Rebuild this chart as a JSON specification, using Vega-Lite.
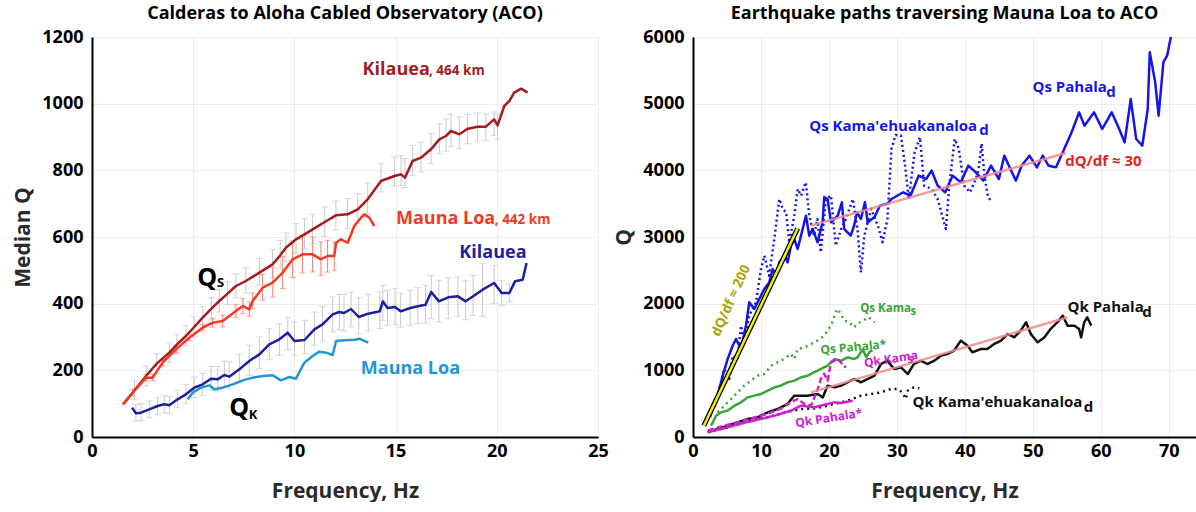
{
  "$schema": "https://vega.github.io/schema/vega-lite/v6.json",
  "background": "white",
  "padding": {"left": 12, "top": 4, "right": 0, "bottom": 0},
  "config": {
    "font": "Open Sans",
    "view": {"stroke": "#9a9a9a", "strokeWidth": 1},
    "axis": {
      "labelFont": "Open Sans", "labelFontSize": 18, "labelFontWeight": "bold", "labelColor": "#000",
      "titleFont": "Open Sans", "titleFontSize": 21, "titleFontWeight": "bold", "titleColor": "#2a2a2a",
      "domainColor": "#000", "domainWidth": 2, "gridColor": "#ededed", "gridWidth": 1,
      "ticks": false, "labelFlush": false, "format": "d"
    },
    "axisX": {"labelPadding": 5, "titlePadding": 20},
    "axisY": {"labelPadding": 9, "titlePadding": 8},
    "title": {"font": "Open Sans", "fontSize": 18, "fontWeight": "bold", "color": "#000", "offset": 5, "anchor": "middle"}
  },
  "resolve": {"scale": {"color": "independent", "strokeDash": "independent", "strokeWidth": "independent"}},
  "datasets": {
    "left": [
      {"s":"KQs","f":1.55,"q":98},
      {"s":"KQs","f":2.1,"q":140,"lo":112,"hi":168},
      {"s":"KQs","f":2.67,"q":183,"lo":153,"hi":213},
      {"s":"KQs","f":3.2,"q":220,"lo":190,"hi":250},
      {"s":"KQs","f":3.82,"q":253,"lo":223,"hi":283},
      {"s":"KQs","f":4.2,"q":278,"lo":248,"hi":308},
      {"s":"KQs","f":4.64,"q":303,"lo":273,"hi":335},
      {"s":"KQs","f":5.05,"q":330,"lo":300,"hi":362},
      {"s":"KQs","f":5.47,"q":358,"lo":328,"hi":390},
      {"s":"KQs","f":5.9,"q":385,"lo":352,"hi":418},
      {"s":"KQs","f":6.29,"q":408,"lo":375,"hi":442},
      {"s":"KQs","f":6.7,"q":430,"lo":397,"hi":466},
      {"s":"KQs","f":7.11,"q":453,"lo":418,"hi":490},
      {"s":"KQs","f":7.6,"q":468,"lo":432,"hi":508},
      {"s":"KQs","f":8.27,"q":493,"lo":455,"hi":535},
      {"s":"KQs","f":8.92,"q":518,"lo":478,"hi":562},
      {"s":"KQs","f":9.3,"q":545,"lo":505,"hi":590},
      {"s":"KQs","f":9.58,"q":568,"lo":528,"hi":612},
      {"s":"KQs","f":10.08,"q":593,"lo":552,"hi":640},
      {"s":"KQs","f":10.5,"q":608,"lo":566,"hi":655},
      {"s":"KQs","f":10.9,"q":623,"lo":580,"hi":668},
      {"s":"KQs","f":11.5,"q":645,"lo":602,"hi":690},
      {"s":"KQs","f":12.05,"q":665,"lo":622,"hi":708},
      {"s":"KQs","f":12.63,"q":668,"lo":625,"hi":715},
      {"s":"KQs","f":13.13,"q":683,"lo":640,"hi":730},
      {"s":"KQs","f":13.62,"q":713,"lo":668,"hi":762},
      {"s":"KQs","f":14.28,"q":768,"lo":735,"hi":820},
      {"s":"KQs","f":14.94,"q":783,"lo":752,"hi":840},
      {"s":"KQs","f":15.27,"q":788,"lo":755,"hi":845},
      {"s":"KQs","f":15.46,"q":778,"lo":748,"hi":835},
      {"s":"KQs","f":15.84,"q":828,"lo":785,"hi":875},
      {"s":"KQs","f":16.25,"q":838,"lo":795,"hi":885},
      {"s":"KQs","f":16.75,"q":863,"lo":820,"hi":910},
      {"s":"KQs","f":17.16,"q":893,"lo":850,"hi":940},
      {"s":"KQs","f":17.49,"q":903,"lo":858,"hi":955},
      {"s":"KQs","f":17.74,"q":918,"lo":872,"hi":968},
      {"s":"KQs","f":18.15,"q":908,"lo":865,"hi":960},
      {"s":"KQs","f":18.56,"q":925,"lo":880,"hi":968},
      {"s":"KQs","f":19.05,"q":931,"lo":888,"hi":972},
      {"s":"KQs","f":19.46,"q":931,"lo":890,"hi":970},
      {"s":"KQs","f":19.87,"q":953,"lo":905,"hi":975},
      {"s":"KQs","f":20.04,"q":935,"lo":893,"hi":968},
      {"s":"KQs","f":20.37,"q":993},
      {"s":"KQs","f":20.62,"q":1008},
      {"s":"KQs","f":20.86,"q":1033},
      {"s":"KQs","f":21.2,"q":1045},
      {"s":"KQs","f":21.52,"q":1033},
      {"s":"MLQs","f":1.52,"q":98},
      {"s":"MLQs","f":2.01,"q":133,"lo":123,"hi":143},
      {"s":"MLQs","f":2.67,"q":178,"lo":168,"hi":188},
      {"s":"MLQs","f":3.0,"q":178,"lo":168,"hi":188},
      {"s":"MLQs","f":3.49,"q":223,"lo":213,"hi":233},
      {"s":"MLQs","f":4.15,"q":263,"lo":253,"hi":273},
      {"s":"MLQs","f":4.81,"q":298,"lo":288,"hi":308},
      {"s":"MLQs","f":5.47,"q":328,"lo":318,"hi":338},
      {"s":"MLQs","f":5.96,"q":343,"lo":330,"hi":356},
      {"s":"MLQs","f":6.46,"q":348,"lo":330,"hi":366},
      {"s":"MLQs","f":7.11,"q":378,"lo":358,"hi":398},
      {"s":"MLQs","f":7.45,"q":393,"lo":370,"hi":415},
      {"s":"MLQs","f":7.77,"q":383,"lo":362,"hi":405},
      {"s":"MLQs","f":7.94,"q":408,"lo":385,"hi":432},
      {"s":"MLQs","f":8.43,"q":448,"lo":410,"hi":488},
      {"s":"MLQs","f":8.93,"q":463,"lo":420,"hi":508},
      {"s":"MLQs","f":9.42,"q":493,"lo":445,"hi":542},
      {"s":"MLQs","f":9.91,"q":533,"lo":478,"hi":588},
      {"s":"MLQs","f":10.4,"q":548,"lo":492,"hi":605},
      {"s":"MLQs","f":10.9,"q":548,"lo":495,"hi":600},
      {"s":"MLQs","f":11.31,"q":533,"lo":485,"hi":585},
      {"s":"MLQs","f":11.64,"q":543,"lo":495,"hi":590},
      {"s":"MLQs","f":11.97,"q":543,"lo":500,"hi":585},
      {"s":"MLQs","f":12.06,"q":583},
      {"s":"MLQs","f":12.3,"q":593},
      {"s":"MLQs","f":12.63,"q":583},
      {"s":"MLQs","f":12.96,"q":633},
      {"s":"MLQs","f":13.29,"q":658},
      {"s":"MLQs","f":13.45,"q":668},
      {"s":"MLQs","f":13.7,"q":658},
      {"s":"MLQs","f":13.95,"q":633},
      {"s":"KQk","f":1.98,"q":88},
      {"s":"KQk","f":2.17,"q":71,"lo":48,"hi":98},
      {"s":"KQk","f":2.42,"q":73,"lo":50,"hi":100},
      {"s":"KQk","f":2.83,"q":83,"lo":58,"hi":108},
      {"s":"KQk","f":3.24,"q":93,"lo":68,"hi":118},
      {"s":"KQk","f":3.57,"q":98,"lo":72,"hi":124},
      {"s":"KQk","f":3.82,"q":95,"lo":70,"hi":122},
      {"s":"KQk","f":4.23,"q":113,"lo":88,"hi":140},
      {"s":"KQk","f":4.64,"q":128,"lo":100,"hi":158},
      {"s":"KQk","f":5.05,"q":148,"lo":118,"hi":180},
      {"s":"KQk","f":5.47,"q":158,"lo":125,"hi":192},
      {"s":"KQk","f":5.88,"q":175,"lo":140,"hi":212},
      {"s":"KQk","f":6.21,"q":173,"lo":138,"hi":212},
      {"s":"KQk","f":6.54,"q":186,"lo":150,"hi":228},
      {"s":"KQk","f":6.78,"q":181,"lo":145,"hi":225},
      {"s":"KQk","f":7.28,"q":203,"lo":162,"hi":248},
      {"s":"KQk","f":7.77,"q":228,"lo":185,"hi":275},
      {"s":"KQk","f":8.27,"q":248,"lo":205,"hi":300},
      {"s":"KQk","f":8.76,"q":278,"lo":232,"hi":325},
      {"s":"KQk","f":9.26,"q":293,"lo":245,"hi":340},
      {"s":"KQk","f":9.67,"q":313,"lo":262,"hi":358},
      {"s":"KQk","f":10.0,"q":288,"lo":245,"hi":345},
      {"s":"KQk","f":10.5,"q":291,"lo":250,"hi":350},
      {"s":"KQk","f":10.99,"q":323,"lo":275,"hi":375},
      {"s":"KQk","f":11.39,"q":338,"lo":288,"hi":392},
      {"s":"KQk","f":11.89,"q":368,"lo":315,"hi":420},
      {"s":"KQk","f":12.22,"q":375,"lo":322,"hi":428},
      {"s":"KQk","f":12.45,"q":372,"lo":318,"hi":428},
      {"s":"KQk","f":12.8,"q":384,"lo":330,"hi":435},
      {"s":"KQk","f":13.18,"q":360,"lo":310,"hi":418},
      {"s":"KQk","f":13.65,"q":370,"lo":318,"hi":428},
      {"s":"KQk","f":14.22,"q":377,"lo":325,"hi":435},
      {"s":"KQk","f":14.37,"q":407,"lo":350,"hi":455},
      {"s":"KQk","f":14.6,"q":387,"lo":335,"hi":440},
      {"s":"KQk","f":14.97,"q":390,"lo":338,"hi":445},
      {"s":"KQk","f":15.25,"q":377,"lo":330,"hi":432},
      {"s":"KQk","f":15.72,"q":387,"lo":335,"hi":440},
      {"s":"KQk","f":16.1,"q":392,"lo":340,"hi":448},
      {"s":"KQk","f":16.48,"q":397,"lo":342,"hi":455},
      {"s":"KQk","f":16.76,"q":435,"lo":355,"hi":485},
      {"s":"KQk","f":17.14,"q":407,"lo":345,"hi":470},
      {"s":"KQk","f":17.6,"q":419,"lo":355,"hi":478},
      {"s":"KQk","f":18.08,"q":422,"lo":362,"hi":480},
      {"s":"KQk","f":18.46,"q":407,"lo":352,"hi":470},
      {"s":"KQk","f":18.83,"q":422,"lo":365,"hi":485},
      {"s":"KQk","f":19.3,"q":442,"lo":362,"hi":520},
      {"s":"KQk","f":19.87,"q":462,"lo":400,"hi":515},
      {"s":"KQk","f":20.24,"q":432,"lo":395,"hi":470},
      {"s":"KQk","f":20.62,"q":432,"lo":405,"hi":460},
      {"s":"KQk","f":20.9,"q":467},
      {"s":"KQk","f":21.28,"q":472},
      {"s":"KQk","f":21.47,"q":522},
      {"s":"MLQk","f":4.73,"q":113},
      {"s":"MLQk","f":4.97,"q":133},
      {"s":"MLQk","f":5.39,"q":148},
      {"s":"MLQk","f":5.8,"q":155},
      {"s":"MLQk","f":6.04,"q":143},
      {"s":"MLQk","f":6.46,"q":148},
      {"s":"MLQk","f":6.95,"q":158},
      {"s":"MLQk","f":7.45,"q":170},
      {"s":"MLQk","f":7.94,"q":178},
      {"s":"MLQk","f":8.43,"q":183},
      {"s":"MLQk","f":8.93,"q":185},
      {"s":"MLQk","f":9.34,"q":170},
      {"s":"MLQk","f":9.75,"q":180},
      {"s":"MLQk","f":10.08,"q":175},
      {"s":"MLQk","f":10.49,"q":223},
      {"s":"MLQk","f":10.9,"q":243},
      {"s":"MLQk","f":11.23,"q":256},
      {"s":"MLQk","f":11.56,"q":253},
      {"s":"MLQk","f":11.89,"q":246},
      {"s":"MLQk","f":12.06,"q":288},
      {"s":"MLQk","f":12.5,"q":290},
      {"s":"MLQk","f":13.0,"q":292},
      {"s":"MLQk","f":13.2,"q":295},
      {"s":"MLQk","f":13.65,"q":283}
    ],
    "leftBig": [
      {"t":"Kilauea","f":13.37,"q":1085,"s":"KQs"},
      {"t":"Mauna Loa","f":15.02,"q":638,"s":"MLQs"},
      {"t":"Kilauea","f":18.15,"q":538,"s":"KQk"},
      {"t":"Mauna Loa","f":13.28,"q":188,"s":"MLQk"}
    ],
    "leftSmall": [
      {"t":", 464 km","f":16.65,"q":1085,"s":"KQs"},
      {"t":", 442 km","f":19.9,"q":638,"s":"MLQs"}
    ],
    "leftQ": [
      {"t":"Q","f":5.2,"q":453},
      {"t":"Q","f":6.78,"q":63}
    ],
    "leftQsub": [
      {"t":"S","f":6.17,"q":450},
      {"t":"K","f":7.75,"q":53}
    ],
    "right": [
      {"k":"QsPd","f":2.5,"q":300},{"k":"QsPd","f":3.0,"q":450},{"k":"QsPd","f":3.63,"q":620},{"k":"QsPd","f":4.37,"q":920},{"k":"QsPd","f":5.1,"q":1170},{"k":"QsPd","f":5.84,"q":1370},{"k":"QsPd","f":6.32,"q":1470},{"k":"QsPd","f":7.06,"q":1320},{"k":"QsPd","f":7.79,"q":1670},{"k":"QsPd","f":8.28,"q":2020},{"k":"QsPd","f":9.01,"q":1920},{"k":"QsPd","f":9.75,"q":2070},{"k":"QsPd","f":10.49,"q":2220},{"k":"QsPd","f":11.22,"q":2320},{"k":"QsPd","f":11.72,"q":2520},{"k":"QsPd","f":12.2,"q":2420},{"k":"QsPd","f":12.7,"q":2620},{"k":"QsPd","f":13.43,"q":2720},{"k":"QsPd","f":13.92,"q":2620},{"k":"QsPd","f":14.41,"q":2870},{"k":"QsPd","f":14.9,"q":2970},{"k":"QsPd","f":15.4,"q":2820},{"k":"QsPd","f":16.13,"q":3120},{"k":"QsPd","f":16.62,"q":3320},{"k":"QsPd","f":17.1,"q":3020},{"k":"QsPd","f":17.6,"q":3120},{"k":"QsPd","f":18.33,"q":2920},{"k":"QsPd","f":19.07,"q":3220},{"k":"QsPd","f":19.3,"q":3600},{"k":"QsPd","f":19.8,"q":3570},{"k":"QsPd","f":20.3,"q":3220},{"k":"QsPd","f":21.3,"q":3320},{"k":"QsPd","f":21.9,"q":3520},{"k":"QsPd","f":22.25,"q":3120},{"k":"QsPd","f":23.2,"q":3020},{"k":"QsPd","f":23.7,"q":3170},{"k":"QsPd","f":24.15,"q":3370},{"k":"QsPd","f":24.7,"q":3270},{"k":"QsPd","f":25.3,"q":3520},{"k":"QsPd","f":25.7,"q":3220},{"k":"QsPd","f":26.7,"q":3300},{"k":"QsPd","f":27.5,"q":3470},{"k":"QsPd","f":28.6,"q":3500},{"k":"QsPd","f":29.2,"q":3570},{"k":"QsPd","f":30.9,"q":3670},{"k":"QsPd","f":32.0,"q":3620},{"k":"QsPd","f":33.2,"q":3920},{"k":"QsPd","f":34.3,"q":3870},{"k":"QsPd","f":35.1,"q":3995},{"k":"QsPd","f":36.0,"q":3770},{"k":"QsPd","f":37.1,"q":3670},{"k":"QsPd","f":38.2,"q":3920},{"k":"QsPd","f":39.4,"q":3820},{"k":"QsPd","f":40.5,"q":4070},{"k":"QsPd","f":41.6,"q":3970},{"k":"QsPd","f":42.7,"q":3845},{"k":"QsPd","f":43.85,"q":4070},{"k":"QsPd","f":45.0,"q":3870},{"k":"QsPd","f":45.8,"q":4220},{"k":"QsPd","f":46.7,"q":4020},{"k":"QsPd","f":47.5,"q":3845},{"k":"QsPd","f":48.35,"q":4070},{"k":"QsPd","f":49.5,"q":4220},{"k":"QsPd","f":50.6,"q":4045},{"k":"QsPd","f":51.45,"q":4220},{"k":"QsPd","f":52.3,"q":4070},{"k":"QsPd","f":53.4,"q":4045},{"k":"QsPd","f":54.5,"q":4295},{"k":"QsPd","f":55.7,"q":4570},{"k":"QsPd","f":56.8,"q":4870},{"k":"QsPd","f":57.6,"q":4670},{"k":"QsPd","f":59.0,"q":4870},{"k":"QsPd","f":60.2,"q":4620},{"k":"QsPd","f":61.6,"q":4870},{"k":"QsPd","f":62.7,"q":4620},{"k":"QsPd","f":63.5,"q":4420},{"k":"QsPd","f":64.4,"q":5070},{"k":"QsPd","f":65.2,"q":4470},{"k":"QsPd","f":66.1,"q":4370},{"k":"QsPd","f":66.9,"q":4920},{"k":"QsPd","f":67.2,"q":5770},{"k":"QsPd","f":68.0,"q":5320},{"k":"QsPd","f":68.5,"q":4820},{"k":"QsPd","f":69.2,"q":5620},{"k":"QsPd","f":69.75,"q":5720},{"k":"QsPd","f":70.3,"q":6000},
      {"k":"QsKd","f":3.2,"q":450},{"k":"QsKd","f":4.6,"q":1020},{"k":"QsKd","f":5.34,"q":870},{"k":"QsKd","f":5.84,"q":1220},{"k":"QsKd","f":6.57,"q":1170},{"k":"QsKd","f":7.06,"q":1670},{"k":"QsKd","f":7.55,"q":1420},{"k":"QsKd","f":8.28,"q":1820},{"k":"QsKd","f":9.26,"q":2020},{"k":"QsKd","f":10.0,"q":2520},{"k":"QsKd","f":10.5,"q":2720},{"k":"QsKd","f":11.2,"q":2420},{"k":"QsKd","f":11.96,"q":2970},{"k":"QsKd","f":12.7,"q":3570},{"k":"QsKd","f":13.2,"q":3420},{"k":"QsKd","f":13.7,"q":3370},{"k":"QsKd","f":14.16,"q":2920},{"k":"QsKd","f":14.9,"q":3320},{"k":"QsKd","f":15.4,"q":3720},{"k":"QsKd","f":15.9,"q":3620},{"k":"QsKd","f":16.6,"q":3820},{"k":"QsKd","f":17.1,"q":3320},{"k":"QsKd","f":17.8,"q":3020},{"k":"QsKd","f":18.3,"q":3270},{"k":"QsKd","f":18.8,"q":2770},{"k":"QsKd","f":19.55,"q":3570},{"k":"QsKd","f":20.3,"q":3620},{"k":"QsKd","f":21.0,"q":2870},{"k":"QsKd","f":21.8,"q":3120},{"k":"QsKd","f":22.5,"q":3270},{"k":"QsKd","f":23.5,"q":3570},{"k":"QsKd","f":24.2,"q":3120},{"k":"QsKd","f":24.7,"q":2470},{"k":"QsKd","f":25.2,"q":3020},{"k":"QsKd","f":26.2,"q":3420},{"k":"QsKd","f":27.2,"q":3170},{"k":"QsKd","f":27.9,"q":2920},{"k":"QsKd","f":28.6,"q":3270},{"k":"QsKd","f":29.2,"q":4320},{"k":"QsKd","f":29.8,"q":4530},{"k":"QsKd","f":30.6,"q":4520},{"k":"QsKd","f":31.2,"q":4070},{"k":"QsKd","f":31.75,"q":3570},{"k":"QsKd","f":32.6,"q":4270},{"k":"QsKd","f":33.4,"q":4495},{"k":"QsKd","f":34.0,"q":3770},{"k":"QsKd","f":35.1,"q":3720},{"k":"QsKd","f":36.0,"q":3570},{"k":"QsKd","f":36.8,"q":3270},{"k":"QsKd","f":37.2,"q":3120},{"k":"QsKd","f":37.7,"q":3770},{"k":"QsKd","f":38.5,"q":4470},{"k":"QsKd","f":39.1,"q":4320},{"k":"QsKd","f":39.9,"q":3770},{"k":"QsKd","f":40.75,"q":3670},{"k":"QsKd","f":41.6,"q":3870},{"k":"QsKd","f":42.0,"q":4000},{"k":"QsKd","f":42.45,"q":4400},{"k":"QsKd","f":42.9,"q":3900},{"k":"QsKd","f":43.4,"q":3600},{"k":"QsKd","f":43.8,"q":3550},
      {"k":"QsKs","f":3.63,"q":370},{"k":"QsKs","f":4.6,"q":470},{"k":"QsKs","f":5.6,"q":570},{"k":"QsKs","f":6.57,"q":670},{"k":"QsKs","f":7.55,"q":770},{"k":"QsKs","f":8.53,"q":845},{"k":"QsKs","f":9.5,"q":920},{"k":"QsKs","f":10.5,"q":945},{"k":"QsKs","f":11.5,"q":1070},{"k":"QsKs","f":12.45,"q":1120},{"k":"QsKs","f":13.4,"q":1170},{"k":"QsKs","f":14.4,"q":1245},{"k":"QsKs","f":14.9,"q":1170},{"k":"QsKs","f":15.4,"q":1320},{"k":"QsKs","f":16.4,"q":1345},{"k":"QsKs","f":17.35,"q":1395},{"k":"QsKs","f":18.3,"q":1445},{"k":"QsKs","f":19.3,"q":1520},{"k":"QsKs","f":20.3,"q":1670},{"k":"QsKs","f":21.2,"q":1920},{"k":"QsKs","f":21.8,"q":1845},{"k":"QsKs","f":22.25,"q":1745},{"k":"QsKs","f":23.0,"q":1720},{"k":"QsKs","f":23.7,"q":1645},{"k":"QsKs","f":24.2,"q":1695},{"k":"QsKs","f":24.95,"q":1745},{"k":"QsKs","f":25.9,"q":1795},{"k":"QsKs","f":26.7,"q":1720},
      {"k":"QsPs","f":2.65,"q":170},{"k":"QsPs","f":3.4,"q":320},{"k":"QsPs","f":4.1,"q":370},{"k":"QsPs","f":5.1,"q":395},{"k":"QsPs","f":6.1,"q":470},{"k":"QsPs","f":7.06,"q":520},{"k":"QsPs","f":8.04,"q":595},{"k":"QsPs","f":9.0,"q":620},{"k":"QsPs","f":10.0,"q":645},{"k":"QsPs","f":11.0,"q":695},{"k":"QsPs","f":12.0,"q":745},{"k":"QsPs","f":12.9,"q":770},{"k":"QsPs","f":13.9,"q":820},{"k":"QsPs","f":14.9,"q":845},{"k":"QsPs","f":15.9,"q":895},{"k":"QsPs","f":16.9,"q":920},{"k":"QsPs","f":17.8,"q":970},{"k":"QsPs","f":18.8,"q":1020},{"k":"QsPs","f":19.8,"q":1070},{"k":"QsPs","f":20.8,"q":1170},{"k":"QsPs","f":21.8,"q":1145},{"k":"QsPs","f":22.75,"q":1195},{"k":"QsPs","f":23.7,"q":1170},{"k":"QsPs","f":24.2,"q":1195},{"k":"QsPs","f":24.95,"q":1310},{"k":"QsPs","f":25.5,"q":1200},{"k":"QsPs","f":26.0,"q":1280},{"k":"QsPs","f":26.4,"q":1300},
      {"k":"QkPd","f":2.16,"q":70},{"k":"QkPd","f":3.63,"q":120},{"k":"QkPd","f":5.1,"q":170},{"k":"QkPd","f":6.57,"q":220},{"k":"QkPd","f":8.04,"q":270},{"k":"QkPd","f":9.5,"q":295},{"k":"QkPd","f":11.0,"q":370},{"k":"QkPd","f":12.45,"q":420},{"k":"QkPd","f":13.9,"q":495},{"k":"QkPd","f":14.9,"q":620},{"k":"QkPd","f":15.9,"q":620},{"k":"QkPd","f":16.9,"q":620},{"k":"QkPd","f":18.3,"q":645},{"k":"QkPd","f":19.1,"q":595},{"k":"QkPd","f":19.8,"q":770},{"k":"QkPd","f":20.8,"q":745},{"k":"QkPd","f":21.8,"q":770},{"k":"QkPd","f":22.75,"q":820},{"k":"QkPd","f":23.7,"q":870},{"k":"QkPd","f":24.7,"q":820},{"k":"QkPd","f":25.7,"q":870},{"k":"QkPd","f":26.7,"q":920},{"k":"QkPd","f":27.65,"q":1095},{"k":"QkPd","f":28.6,"q":1145},{"k":"QkPd","f":29.6,"q":1020},{"k":"QkPd","f":30.6,"q":1045},{"k":"QkPd","f":31.6,"q":945},{"k":"QkPd","f":32.5,"q":1095},{"k":"QkPd","f":33.5,"q":1145},{"k":"QkPd","f":34.5,"q":1095},{"k":"QkPd","f":35.5,"q":1145},{"k":"QkPd","f":36.5,"q":1220},{"k":"QkPd","f":37.45,"q":1245},{"k":"QkPd","f":38.4,"q":1295},{"k":"QkPd","f":39.4,"q":1445},{"k":"QkPd","f":40.4,"q":1370},{"k":"QkPd","f":41.1,"q":1270},{"k":"QkPd","f":42.35,"q":1320},{"k":"QkPd","f":43.3,"q":1320},{"k":"QkPd","f":44.3,"q":1395},{"k":"QkPd","f":45.3,"q":1445},{"k":"QkPd","f":46.3,"q":1545},{"k":"QkPd","f":47.25,"q":1495},{"k":"QkPd","f":48.2,"q":1595},{"k":"QkPd","f":49.0,"q":1720},{"k":"QkPd","f":49.7,"q":1545},{"k":"QkPd","f":50.7,"q":1420},{"k":"QkPd","f":51.7,"q":1495},{"k":"QkPd","f":52.6,"q":1620},{"k":"QkPd","f":53.6,"q":1720},{"k":"QkPd","f":54.4,"q":1820},{"k":"QkPd","f":55.1,"q":1670},{"k":"QkPd","f":56.1,"q":1670},{"k":"QkPd","f":56.8,"q":1620},{"k":"QkPd","f":57.1,"q":1495},{"k":"QkPd","f":57.55,"q":1720},{"k":"QkPd","f":58.0,"q":1795},{"k":"QkPd","f":58.6,"q":1670},
      {"k":"QkKd","f":2.2,"q":80},{"k":"QkKd","f":5.0,"q":140},{"k":"QkKd","f":8.0,"q":230},{"k":"QkKd","f":11.0,"q":300},{"k":"QkKd","f":14.0,"q":380},{"k":"QkKd","f":16.0,"q":420},{"k":"QkKd","f":18.0,"q":430},{"k":"QkKd","f":18.8,"q":445},{"k":"QkKd","f":20.8,"q":495},{"k":"QkKd","f":22.75,"q":545},{"k":"QkKd","f":24.7,"q":620},{"k":"QkKd","f":26.2,"q":645},{"k":"QkKd","f":27.65,"q":670},{"k":"QkKd","f":29.1,"q":720},{"k":"QkKd","f":30.1,"q":720},{"k":"QkKd","f":30.8,"q":670},{"k":"QkKd","f":31.3,"q":570},{"k":"QkKd","f":31.6,"q":695},{"k":"QkKd","f":32.5,"q":745},{"k":"QkKd","f":33.3,"q":730},
      {"k":"QkKs","f":2.2,"q":100},{"k":"QkKs","f":5.0,"q":180},{"k":"QkKs","f":8.0,"q":260},{"k":"QkKs","f":11.0,"q":350},{"k":"QkKs","f":13.0,"q":430},{"k":"QkKs","f":14.4,"q":520},{"k":"QkKs","f":15.4,"q":570},{"k":"QkKs","f":16.4,"q":495},{"k":"QkKs","f":17.35,"q":470},{"k":"QkKs","f":18.3,"q":700},{"k":"QkKs","f":18.8,"q":870},{"k":"QkKs","f":19.3,"q":950},{"k":"QkKs","f":19.8,"q":845},{"k":"QkKs","f":20.3,"q":1120},{"k":"QkKs","f":21.3,"q":1170},{"k":"QkKs","f":22.0,"q":1090},{"k":"QkKs","f":22.5,"q":1040},
      {"k":"QkPs","f":2.16,"q":70},{"k":"QkPs","f":4.5,"q":130},{"k":"QkPs","f":7.06,"q":200},{"k":"QkPs","f":9.5,"q":260},{"k":"QkPs","f":12.0,"q":320},{"k":"QkPs","f":14.4,"q":395},{"k":"QkPs","f":15.9,"q":470},{"k":"QkPs","f":17.8,"q":445},{"k":"QkPs","f":18.8,"q":470},{"k":"QkPs","f":19.8,"q":495},{"k":"QkPs","f":20.8,"q":520},{"k":"QkPs","f":21.8,"q":510},{"k":"QkPs","f":22.75,"q":530},{"k":"QkPs","f":23.5,"q":545}
    ],
    "ref200": [{"f":1.6,"q":170},{"f":15.4,"q":3130}],
    "ref30a": [{"f":17.35,"q":3170},{"f":54.85,"q":4260}],
    "ref30b": [{"f":17.35,"q":670},{"f":55.1,"q":1795}],
    "rightBig": [
      {"t":"Qs Pahala","f":49.95,"q":5170,"k":"QsPd"},
      {"t":"Qs Kama'ehuakanaloa","f":17.1,"q":4595,"k":"QsKd"},
      {"t":"Qk Pahala","f":55.1,"q":1870,"k":"QkPd"},
      {"t":"Qk Kama'ehuakanaloa","f":32.3,"q":445,"k":"QkKd"}
    ],
    "rightBigSub": [
      {"t":"d","f":60.8,"q":5100,"k":"QsPd"},
      {"t":"d","f":42.1,"q":4525,"k":"QsKd"},
      {"t":"d","f":66.1,"q":1800,"k":"QkPd"},
      {"t":"d","f":57.5,"q":375,"k":"QkKd"}
    ],
    "rightGreen": [
      {"t":"Qs Kama","f":24.6,"q":1870,"k":"QsKs"}
    ],
    "rightGreenSub": [
      {"t":"s","f":32.0,"q":1825,"k":"QsKs"}
    ],
    "rightGreenTilt": [
      {"t":"Qs Pahala*","f":18.8,"q":1245,"k":"QsPs"}
    ],
    "rightMag": [
      {"t":"Qk Kama","f":25.25,"q":1045,"k":"QkKs"},
      {"t":"Qk Pahala*","f":15.15,"q":145,"k":"QkPs"}
    ],
    "rightMagSub": [
      {"t":"s","f":31.6,"q":1105,"k":"QkKs"}
    ],
    "slope30": [{"t":"dQ/df ≈ 30","f":54.75,"q":4060}],
    "slope200": [{"t":"dQ/df ≈ 200","f":5.6,"q":2045}]
  },
  "hconcat": [
    {
      "width": 506, "height": 400,
      "title": "Calderas to Aloha Cabled Observatory (ACO)",
      "layer": [
        {"data": {"name": "left"}, "transform": [{"filter": "isValid(datum.lo) && (datum.s === 'KQs' || datum.s === 'KQk')"}],
         "mark": {"type": "rule", "color": "#c9c9c9", "strokeWidth": 1},
         "encoding": {
           "x": {"field": "f", "type": "quantitative", "scale": {"domain": [0, 25], "nice": false}, "axis": {"values": [0,5,10,15,20,25], "title": "Frequency, Hz"}},
           "y": {"field": "lo", "type": "quantitative", "scale": {"domain": [0, 1200], "nice": false}, "axis": {"values": [0,200,400,600,800,1000,1200], "title": "Median Q"}},
           "y2": {"field": "hi"}
         }},
        {"data": {"name": "left"}, "transform": [{"filter": "isValid(datum.lo) && (datum.s === 'KQs' || datum.s === 'KQk')"}],
         "mark": {"type": "tick", "orient": "horizontal", "color": "#c9c9c9", "size": 7, "thickness": 1},
         "encoding": {"x": {"field": "f", "type": "quantitative"}, "y": {"field": "lo", "type": "quantitative"}}},
        {"data": {"name": "left"}, "transform": [{"filter": "isValid(datum.lo) && (datum.s === 'KQs' || datum.s === 'KQk')"}],
         "mark": {"type": "tick", "orient": "horizontal", "color": "#c9c9c9", "size": 7, "thickness": 1},
         "encoding": {"x": {"field": "f", "type": "quantitative"}, "y": {"field": "hi", "type": "quantitative"}}},
        {"data": {"name": "left"}, "transform": [{"filter": "isValid(datum.lo) && datum.s === 'MLQs'"}],
         "mark": {"type": "rule", "color": "#f3806f", "strokeWidth": 1},
         "encoding": {"x": {"field": "f", "type": "quantitative"}, "y": {"field": "lo", "type": "quantitative"}, "y2": {"field": "hi"}}},
        {"data": {"name": "left"}, "transform": [{"filter": "isValid(datum.lo) && datum.s === 'MLQs'"}],
         "mark": {"type": "tick", "orient": "horizontal", "color": "#f3806f", "size": 6, "thickness": 1},
         "encoding": {"x": {"field": "f", "type": "quantitative"}, "y": {"field": "lo", "type": "quantitative"}}},
        {"data": {"name": "left"}, "transform": [{"filter": "isValid(datum.lo) && datum.s === 'MLQs'"}],
         "mark": {"type": "tick", "orient": "horizontal", "color": "#f3806f", "size": 6, "thickness": 1},
         "encoding": {"x": {"field": "f", "type": "quantitative"}, "y": {"field": "hi", "type": "quantitative"}}},
        {"data": {"name": "left"},
         "mark": {"type": "line", "strokeWidth": 2.5, "strokeJoin": "round"},
         "encoding": {
           "x": {"field": "f", "type": "quantitative"},
           "y": {"field": "q", "type": "quantitative"},
           "color": {"field": "s", "type": "nominal", "scale": {"domain": ["KQs","MLQs","KQk","MLQk"], "range": ["#a31d20","#f03a24","#1f1f9e","#2596d1"]}, "legend": null}
         }},
        {"data": {"name": "leftBig"},
         "mark": {"type": "text", "align": "left", "baseline": "alphabetic", "fontSize": 18, "fontWeight": "bold"},
         "encoding": {"x": {"field": "f", "type": "quantitative"}, "y": {"field": "q", "type": "quantitative"}, "text": {"field": "t"}, "color": {"field": "s", "type": "nominal", "legend": null}}},
        {"data": {"name": "leftSmall"},
         "mark": {"type": "text", "align": "left", "baseline": "alphabetic", "fontSize": 13.5, "fontWeight": "bold"},
         "encoding": {"x": {"field": "f", "type": "quantitative"}, "y": {"field": "q", "type": "quantitative"}, "text": {"field": "t"}, "color": {"field": "s", "type": "nominal", "legend": null}}},
        {"data": {"name": "leftQ"},
         "mark": {"type": "text", "align": "left", "baseline": "alphabetic", "fontSize": 25, "fontWeight": "bold", "color": "#000"},
         "encoding": {"x": {"field": "f", "type": "quantitative"}, "y": {"field": "q", "type": "quantitative"}, "text": {"field": "t"}}},
        {"data": {"name": "leftQsub"},
         "mark": {"type": "text", "align": "left", "baseline": "alphabetic", "fontSize": 13, "fontWeight": "bold", "color": "#000"},
         "encoding": {"x": {"field": "f", "type": "quantitative"}, "y": {"field": "q", "type": "quantitative"}, "text": {"field": "t"}}}
      ]
    },
    {
      "width": 503, "height": 400,
      "title": "Earthquake paths traversing Mauna Loa to ACO",
      "layer": [
        {"data": {"name": "right"},
         "mark": {"type": "line", "strokeJoin": "round"},
         "encoding": {
           "x": {"field": "f", "type": "quantitative", "scale": {"domain": [0, 74], "nice": false}, "axis": {"values": [0,10,20,30,40,50,60,70], "title": "Frequency, Hz"}},
           "y": {"field": "q", "type": "quantitative", "scale": {"domain": [0, 6000], "nice": false}, "axis": {"values": [0,1000,2000,3000,4000,5000,6000], "title": "Q"}},
           "color": {"field": "k", "type": "nominal", "scale": {"domain": ["QkPs","QkKs","QkKd","QkPd","QsPs","QsKs","QsKd","QsPd"], "range": ["#cc22cc","#cc22cc","#111111","#111111","#3aa535","#3aa535","#1515e6","#1515e6"]}, "legend": null},
           "strokeDash": {"field": "k", "type": "nominal", "scale": {"domain": ["QkPs","QkKs","QkKd","QkPd","QsPs","QsKs","QsKd","QsPd"], "range": [[1,0],[6,3],[2,4],[1,0],[1,0],[2,4],[2,3],[1,0]]}, "legend": null},
           "strokeWidth": {"field": "k", "type": "nominal", "scale": {"domain": ["QkPs","QkKs","QkKd","QkPd","QsPs","QsKs","QsKd","QsPd"], "range": [2.5,2.5,2,2.5,2,2,2,3]}, "legend": null}
         }},
        {"data": {"name": "ref30a"}, "mark": {"type": "line", "color": "#f28a8a", "strokeWidth": 2.5, "opacity": 0.85},
         "encoding": {"x": {"field": "f", "type": "quantitative"}, "y": {"field": "q", "type": "quantitative"}}},
        {"data": {"name": "ref30b"}, "mark": {"type": "line", "color": "#f28a8a", "strokeWidth": 2.5, "opacity": 0.85},
         "encoding": {"x": {"field": "f", "type": "quantitative"}, "y": {"field": "q", "type": "quantitative"}}},
        {"data": {"name": "ref200"}, "mark": {"type": "line", "color": "#000000", "strokeWidth": 5},
         "encoding": {"x": {"field": "f", "type": "quantitative"}, "y": {"field": "q", "type": "quantitative"}}},
        {"data": {"name": "ref200"}, "mark": {"type": "line", "color": "#f2f200", "strokeWidth": 2.5},
         "encoding": {"x": {"field": "f", "type": "quantitative"}, "y": {"field": "q", "type": "quantitative"}}},
        {"data": {"name": "rightBig"},
         "mark": {"type": "text", "align": "left", "baseline": "alphabetic", "fontSize": 15, "fontWeight": "bold"},
         "encoding": {"x": {"field": "f", "type": "quantitative"}, "y": {"field": "q", "type": "quantitative"}, "text": {"field": "t"}, "color": {"field": "k", "type": "nominal", "legend": null}}},
        {"data": {"name": "rightBigSub"},
         "mark": {"type": "text", "align": "left", "baseline": "alphabetic", "fontSize": 15, "fontWeight": "bold"},
         "encoding": {"x": {"field": "f", "type": "quantitative"}, "y": {"field": "q", "type": "quantitative"}, "text": {"field": "t"}, "color": {"field": "k", "type": "nominal", "legend": null}}},
        {"data": {"name": "rightGreen"},
         "mark": {"type": "text", "align": "left", "baseline": "alphabetic", "fontSize": 11.5, "fontWeight": "bold"},
         "encoding": {"x": {"field": "f", "type": "quantitative"}, "y": {"field": "q", "type": "quantitative"}, "text": {"field": "t"}, "color": {"field": "k", "type": "nominal", "legend": null}}},
        {"data": {"name": "rightGreenSub"},
         "mark": {"type": "text", "align": "left", "baseline": "alphabetic", "fontSize": 11.5, "fontWeight": "bold"},
         "encoding": {"x": {"field": "f", "type": "quantitative"}, "y": {"field": "q", "type": "quantitative"}, "text": {"field": "t"}, "color": {"field": "k", "type": "nominal", "legend": null}}},
        {"data": {"name": "rightGreenTilt"},
         "mark": {"type": "text", "align": "left", "baseline": "alphabetic", "fontSize": 12, "fontWeight": "bold", "angle": 355},
         "encoding": {"x": {"field": "f", "type": "quantitative"}, "y": {"field": "q", "type": "quantitative"}, "text": {"field": "t"}, "color": {"field": "k", "type": "nominal", "legend": null}}},
        {"data": {"name": "rightMag"},
         "mark": {"type": "text", "align": "left", "baseline": "alphabetic", "fontSize": 12, "fontWeight": "bold", "angle": 351},
         "encoding": {"x": {"field": "f", "type": "quantitative"}, "y": {"field": "q", "type": "quantitative"}, "text": {"field": "t"}, "color": {"field": "k", "type": "nominal", "legend": null}}},
        {"data": {"name": "rightMagSub"},
         "mark": {"type": "text", "align": "left", "baseline": "alphabetic", "fontSize": 12, "fontWeight": "bold", "angle": 351},
         "encoding": {"x": {"field": "f", "type": "quantitative"}, "y": {"field": "q", "type": "quantitative"}, "text": {"field": "t"}, "color": {"field": "k", "type": "nominal", "legend": null}}},
        {"data": {"name": "slope30"},
         "mark": {"type": "text", "align": "left", "baseline": "alphabetic", "fontSize": 15, "fontWeight": "bold", "color": "#e8231c"},
         "encoding": {"x": {"field": "f", "type": "quantitative"}, "y": {"field": "q", "type": "quantitative"}, "text": {"field": "t"}}},
        {"data": {"name": "slope200"},
         "mark": {"type": "text", "align": "center", "baseline": "middle", "fontSize": 13.5, "fontWeight": "bold", "color": "#aaa200", "angle": 294},
         "encoding": {"x": {"field": "f", "type": "quantitative"}, "y": {"field": "q", "type": "quantitative"}, "text": {"field": "t"}}}
      ]
    }
  ],
  "spacing": 95,
  "bounds": "flush"
}
